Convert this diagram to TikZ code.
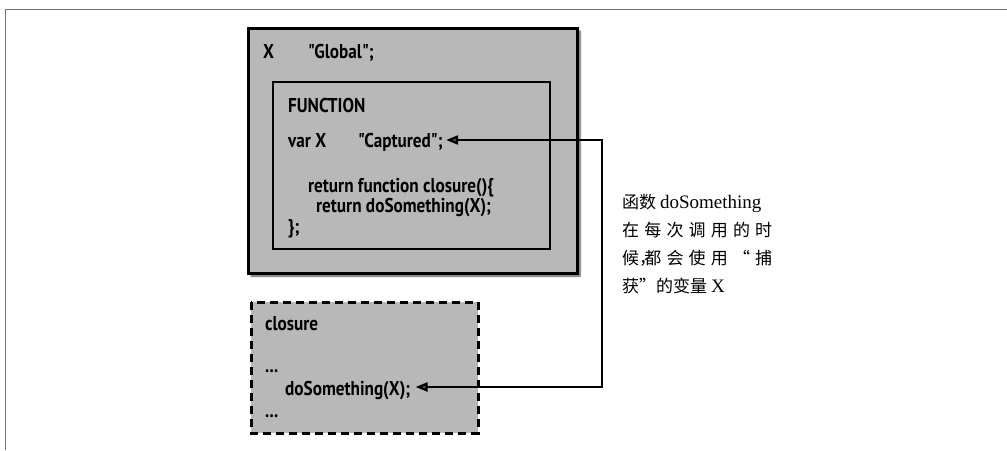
\documentclass[tikz,border=0pt]{standalone}
\usepackage{fontspec}
\setmainfont{Liberation Serif}
\newfontfamily\codefont[FakeStretch=0.86]{PT Sans}
\newfontfamily\cjk{Noto Sans CJK SC}
\usetikzlibrary{arrows.meta,shadows.blur}
\definecolor{boxfill}{gray}{0.72}
\definecolor{framegray}{gray}{0.45}

\begin{document}
\begin{tikzpicture}[x=1pt,y=-1pt,
  code/.style={anchor=base west,inner sep=0pt,font=\codefont\bfseries\fontsize{20}{22}\selectfont},
  note/.style={anchor=base west,inner sep=0pt,font=\cjk\fontsize{17}{20}\selectfont},
  conn/.style={line width=2.2pt,{Triangle[length=12pt,width=9pt]}-{Triangle[length=12pt,width=9pt]}}
]
\useasboundingbox (0,0) rectangle (1007,450);

% page frame
\draw[framegray,line width=1pt] (1007,9) -- (5,9) -- (5,450);

% global scope
\draw[line width=3pt,fill=boxfill,
      blur shadow={shadow xshift=3pt,shadow yshift=-3pt,shadow blur steps=6,shadow opacity=70}]
  (248,28) rectangle (577,273);

% function scope
\draw[line width=2.5pt] (273,82) rectangle (550,249);

% closure
\draw[line width=3pt,dash pattern=on 8pt off 5pt,fill=boxfill] (251,302) rectangle (478,433);

% code in the global scope
\node[code] (gx) at (263,58) {X};
\node[code] (gval) at (308,58) {"Global";};
\node[code] (fn) at (288,112) {FUNCTION};
\node[code] (varx) at (288,147) {var X};
\node[code,inner xsep=3pt] (cap) at (355,147) {"Captured";};
\node[code] (ret1) at (308,192) {return function closure()\{};
\node[code] (ret2) at (316,212) {return doSomething(X);};
\node[code] (endfn) at (288,233) {\};};

% code in the closure
\node[code] (clname) at (265,330) {closure};
\node[code] (dots1) at (265,372) {...};
\node[code,inner xsep=5pt] (dos) at (280,395) {doSomething(X);};
\node[code] (dots2) at (265,417) {...};

% connector
\coordinate (turntop) at (602,140);
\coordinate (turnbot) at (602,387);
\draw[conn] (cap.east |- turntop) -- (turntop) -- (turnbot) -- (dos.east |- turnbot);

% explanation
\node[note] (n1) at (622,208) {函数 {\fontsize{19}{20}\selectfont\rmfamily doSomething}};
\node[note] (n2) at (622,236) {\makebox[150pt][s]{在\hfill 每\hfill 次\hfill 调\hfill 用\hfill 的\hfill 时}};
\node[note] (n3) at (622,264) {\makebox[150pt][s]{候\rlap{，}\hfill 都\hfill 会\hfill 使\hfill 用\hfill “\hfill 捕}};
\node[note] (n4) at (622,292) {获”的变量 {\fontsize{19}{20}\selectfont\rmfamily X}};
\end{tikzpicture}
\end{document}
